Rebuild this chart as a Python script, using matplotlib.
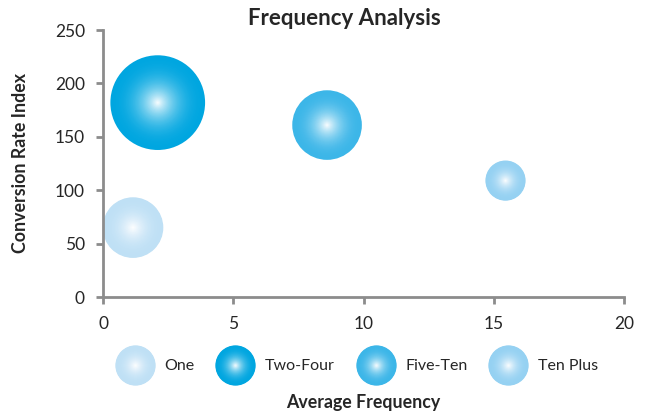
import numpy as np
import matplotlib
matplotlib.use("Agg")
import matplotlib.pyplot as plt
from matplotlib.lines import Line2D
from matplotlib.legend_handler import HandlerBase
from matplotlib.colors import to_rgb

# Data
groups = ['One', 'Two-Four', 'Five-Ten', 'Ten Plus']
avg_freq = [1.15, 2.1, 8.6, 15.45]
conv_index = [65, 182, 161, 109]
bubble_size = [41, 100, 54, 18]   # relative bubble areas
colors = ['#BFE0F5', '#00A6E0', '#3CB6E8', '#95D1F2']

plt.rcParams['font.family'] = ['Lato', 'DejaVu Sans']
txt = '#262626'
gray = '#8C8C8C'

fig = plt.figure(figsize=(6.48, 4.15), dpi=100)
ax = fig.add_axes([0.159, 0.2843, 0.804, 0.6434])

n_layers = 40
max_area = 4650  # points^2 for the largest bubble


def shade(col, t):
    # t=1 at edge, t=0 at center
    c = np.array(to_rgb(col))
    w = (1 - t) ** 2.2
    return c + (1 - c) * w


for x, y, s, col in zip(avg_freq, conv_index, bubble_size, colors):
    area = max_area * s / max(bubble_size)
    for k in range(n_layers, 0, -1):
        t = k / n_layers
        ax.scatter([x], [y], s=area * t ** 2, color=shade(col, t),
                   edgecolors='none', zorder=2, clip_on=False)


class GradientHandler(HandlerBase):
    def __init__(self, col, size=29):
        super().__init__()
        self.col = col
        self.size = size

    def create_artists(self, legend, orig_handle, xdescent, ydescent,
                       width, height, fontsize, trans):
        arts = []
        cx = width / 2 - xdescent
        cy = height / 2 - ydescent
        for k in range(n_layers, 1, -1):
            t = k / n_layers
            fc = shade(self.col, t)
            ln = Line2D([cx], [cy], marker='o', linestyle='none',
                        markersize=self.size * t, markeredgewidth=0,
                        markerfacecolor=fc, markeredgecolor=fc,
                        transform=trans)
            arts.append(ln)
        return arts


handles = [Line2D([], [], label=g) for g in groups]
hmap = {h: GradientHandler(c) for h, c in zip(handles, colors)}
leg = fig.legend(handles=handles, handler_map=hmap, loc='center',
                 bbox_to_anchor=(0.55, 0.12), ncol=4, frameon=False,
                 fontsize=11.5, handlelength=2.5, handleheight=2.2,
                 columnspacing=1.3, handletextpad=0.6)
for t in leg.get_texts():
    t.set_color(txt)

ax.set_xlim(0, 20)
ax.set_ylim(0, 250)
ax.set_xticks([0, 5, 10, 15, 20])
ax.set_yticks([0, 50, 100, 150, 200, 250])
for sp in ['top', 'right']:
    ax.spines[sp].set_visible(False)
for sp in ['left', 'bottom']:
    ax.spines[sp].set_color(gray)
    ax.spines[sp].set_linewidth(2)
    ax.spines[sp].set_zorder(3)
ax.tick_params(axis='both', colors=gray, width=2, length=5, labelsize=12.5,
               labelcolor=txt)
ax.tick_params(axis='x', pad=9)
ax.tick_params(axis='y', pad=8)

fig.text(0.532, 0.956, 'Frequency Analysis', ha='center', va='center',
         fontsize=16, fontweight='bold', color=txt)
fig.text(0.031, 0.607, 'Conversion Rate Index', ha='center', va='center',
         rotation=90, fontsize=12.8, fontweight='bold', color=txt)
fig.text(0.56, 0.03, 'Average Frequency', ha='center', va='center',
         fontsize=12.8, fontweight='bold', color=txt)

fig.savefig('out.png', dpi=100)
